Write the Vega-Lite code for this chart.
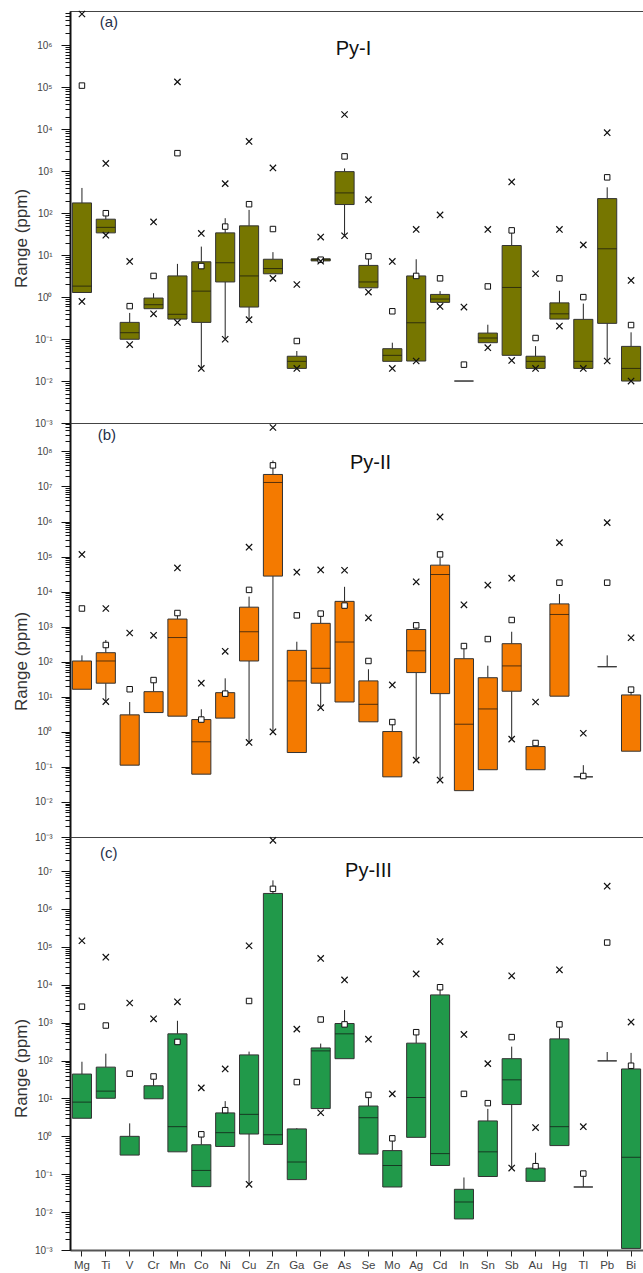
{
"$schema":"https://vega.github.io/schema/vega-lite/v6.json",
"padding":{"left":11,"top":7,"right":0,"bottom":0},
"background":"white",
"spacing":0,
"bounds":"flush",
"config":{"view":{"stroke":"#444","strokeWidth":1},"font":"Liberation Sans"},
"resolve":{"scale":{"y":"independent"}},
"datasets":{
"box":[
{"p":"a","el":"Mg","q1":1.29,"med":1.83,"q3":176,"whi":400,"mean":110000,"min":0.79,"max":5600000},
{"p":"a","el":"Ti","q1":34,"med":46,"q3":72,"whi":100,"mean":100,"min":30,"max":1540},
{"p":"a","el":"V","q1":0.099,"med":0.142,"q3":0.25,"whi":0.42,"mean":0.61,"min":0.074,"max":7.1},
{"p":"a","el":"Cr","q1":0.53,"med":0.66,"q3":0.95,"whi":1.24,"mean":3.2,"min":0.4,"max":62},
{"p":"a","el":"Mn","q1":0.3,"med":0.39,"q3":3.2,"whi":6.2,"mean":2700,"min":0.25,"max":135000},
{"p":"a","el":"Co","q1":0.25,"med":1.39,"q3":6.95,"whi":16,"wlo":0.02,"mean":5.5,"min":0.02,"max":33},
{"p":"a","el":"Ni","q1":2.3,"med":6.6,"q3":34,"whi":76,"wlo":0.099,"mean":48,"min":0.099,"max":507},
{"p":"a","el":"Cu","q1":0.58,"med":3.2,"q3":50,"whi":120,"wlo":0.29,"mean":164,"min":0.29,"max":5150},
{"p":"a","el":"Zn","q1":3.6,"med":4.8,"q3":8,"whi":11.8,"mean":42,"min":2.8,"max":1200},
{"p":"a","el":"Ga","q1":0.02,"med":0.0295,"q3":0.039,"whi":0.052,"mean":0.09,"min":0.02,"max":2},
{"p":"a","el":"Ge","q1":7.3,"med":7.8,"q3":8.2,"mean":7.8,"min":7.2,"max":27},
{"p":"a","el":"As","q1":161,"med":305,"q3":980,"whi":1170,"wlo":29,"mean":2260,"min":29,"max":22500},
{"p":"a","el":"Se","q1":1.67,"med":2.3,"q3":5.7,"whi":9.4,"mean":9.4,"min":1.32,"max":210},
{"p":"a","el":"Mo","q1":0.0295,"med":0.041,"q3":0.059,"whi":0.082,"mean":0.46,"min":0.02,"max":7.1},
{"p":"a","el":"Ag","q1":0.03,"med":0.245,"q3":3.2,"whi":8,"mean":3.2,"min":0.03,"max":41},
{"p":"a","el":"Cd","q1":0.75,"med":0.9,"q3":1.16,"whi":1.39,"mean":2.8,"min":0.6,"max":91},
{"p":"a","el":"In","q1":0.01,"q3":0.01,"mean":0.0246,"max":0.58},
{"p":"a","el":"Sn","q1":0.082,"med":0.106,"q3":0.139,"whi":0.22,"mean":1.8,"min":0.0625,"max":41},
{"p":"a","el":"Sb","q1":0.041,"med":1.7,"q3":17,"whi":39,"mean":39,"min":0.031,"max":556},
{"p":"a","el":"Au","q1":0.02,"med":0.0295,"q3":0.039,"whi":0.068,"mean":0.106,"min":0.02,"max":3.6},
{"p":"a","el":"Hg","q1":0.3,"med":0.4,"q3":0.73,"whi":1.42,"mean":2.8,"min":0.204,"max":41},
{"p":"a","el":"Tl","q1":0.02,"med":0.0295,"q3":0.295,"whi":0.7,"mean":1,"min":0.02,"max":17.6},
{"p":"a","el":"Pb","q1":0.237,"med":14.2,"q3":223,"whi":414,"wlo":0.03,"mean":716,"min":0.03,"max":8300},
{"p":"a","el":"Bi","q1":0.01,"med":0.02,"q3":0.067,"whi":0.145,"mean":0.216,"min":0.01,"max":2.5},
{"p":"b","el":"Mg","q1":16.4,"q3":105,"whi":152,"mean":3300,"max":115000},
{"p":"b","el":"Ti","q1":24.4,"med":105,"q3":181,"whi":417,"wlo":7.3,"mean":300,"min":7.3,"max":3300},
{"p":"b","el":"V","q1":0.112,"q3":3.05,"whi":7.1,"mean":16.4,"max":660},
{"p":"b","el":"Cr","q1":3.55,"q3":14,"whi":29.7,"mean":30,"max":566},
{"p":"b","el":"Mn","q1":2.8,"med":490,"q3":1650,"whi":2330,"mean":2450,"max":47500},
{"p":"b","el":"Co","q1":0.062,"med":0.52,"q3":2.24,"whi":4.4,"mean":2.24,"max":24.4},
{"p":"b","el":"Ni","q1":2.46,"q3":13.1,"whi":33.6,"mean":12.3,"max":198},
{"p":"b","el":"Cu","q1":105,"med":717,"q3":3600,"whi":7200,"wlo":0.5,"mean":11200,"min":0.5,"max":185000},
{"p":"b","el":"Zn","q1":27700,"med":13000000,"q3":22000000,"whi":55000000,"wlo":1,"mean":40000000,"min":1,"max":480000000},
{"p":"b","el":"Ga","q1":0.257,"med":28.4,"q3":211,"whi":372,"mean":2100,"max":35900},
{"p":"b","el":"Ge","q1":24.4,"med":65,"q3":1245,"whi":2360,"wlo":4.9,"mean":2360,"min":4.9,"max":41500},
{"p":"b","el":"As","q1":7.1,"med":365,"q3":5270,"whi":13700,"mean":4000,"max":40800},
{"p":"b","el":"Se","q1":1.93,"med":6.1,"q3":28.4,"whi":61,"mean":105,"max":1790},
{"p":"b","el":"Mo","q1":0.052,"q3":1.02,"whi":1.84,"mean":1.9,"max":21.8},
{"p":"b","el":"Ag","q1":49,"med":205,"q3":830,"whi":1290,"wlo":0.156,"mean":1090,"min":0.156,"max":19000},
{"p":"b","el":"Cd","q1":12.3,"med":30800,"q3":56900,"whi":91000,"wlo":0.042,"mean":115000,"min":0.042,"max":1350000},
{"p":"b","el":"In","q1":0.021,"med":1.65,"q3":122,"whi":280,"mean":280,"max":4200},
{"p":"b","el":"Sn","q1":0.083,"med":4.5,"q3":35,"whi":77,"mean":443,"max":15400},
{"p":"b","el":"Sb","q1":14.4,"med":76,"q3":327,"whi":717,"wlo":0.62,"mean":1550,"min":0.62,"max":24200},
{"p":"b","el":"Au","q1":0.083,"q3":0.38,"mean":0.48,"max":7.1},
{"p":"b","el":"Hg","q1":10.4,"med":2230,"q3":4470,"whi":8500,"mean":18000,"max":250000},
{"p":"b","el":"Tl","q1":0.052,"q3":0.052,"whi":0.112,"mean":0.055,"max":0.91},
{"p":"b","el":"Pb","q1":72,"q3":72,"whi":152,"mean":18000,"max":930000},
{"p":"b","el":"Bi","q1":0.28,"q3":11.3,"whi":18,"mean":16,"max":484},
{"p":"c","el":"Mg","q1":3,"med":8,"q3":44,"whi":93,"mean":2640,"max":145000},
{"p":"c","el":"Ti","q1":10.1,"med":15.6,"q3":67,"whi":152,"mean":840,"max":53500},
{"p":"c","el":"V","q1":0.32,"q3":1,"whi":2.2,"mean":45,"max":3300},
{"p":"c","el":"Cr","q1":9.8,"q3":21.6,"whi":33,"mean":38,"max":1260},
{"p":"c","el":"Mn","q1":0.39,"med":1.8,"q3":507,"whi":1120,"mean":310,"max":3550},
{"p":"c","el":"Co","q1":0.047,"med":0.126,"q3":0.6,"whi":1.38,"mean":1.13,"max":19},
{"p":"c","el":"Ni","q1":0.54,"med":1.25,"q3":4.15,"whi":8.5,"mean":4.9,"max":60},
{"p":"c","el":"Cu","q1":1.15,"med":3.8,"q3":141,"whi":172,"wlo":0.054,"mean":3730,"min":0.054,"max":107000},
{"p":"c","el":"Zn","q1":0.61,"med":1.1,"q3":2570000,"whi":5700000,"mean":3400000,"max":65000000},
{"p":"c","el":"Ga","q1":0.072,"med":0.21,"q3":1.57,"whi":1.65,"mean":27,"max":675},
{"p":"c","el":"Ge","q1":5.4,"med":180,"q3":215,"whi":280,"mean":1210,"min":4.2,"max":49500},
{"p":"c","el":"As","q1":112,"med":507,"q3":950,"whi":2150,"mean":900,"max":13400},
{"p":"c","el":"Se","q1":0.34,"med":3.1,"q3":6.3,"whi":12.4,"mean":12.4,"max":366},
{"p":"c","el":"Mo","q1":0.046,"med":0.17,"q3":0.42,"whi":0.885,"mean":0.885,"max":13.2},
{"p":"c","el":"Ag","q1":0.94,"med":10.6,"q3":288,"whi":560,"mean":560,"max":19300},
{"p":"c","el":"Cd","q1":0.17,"med":0.35,"q3":5400,"whi":8600,"mean":8600,"max":138000},
{"p":"c","el":"In","q1":0.0066,"med":0.0185,"q3":0.04,"whi":0.082,"mean":13.2,"max":490},
{"p":"c","el":"Sn","q1":0.087,"med":0.39,"q3":2.55,"whi":5.3,"mean":7.5,"max":83},
{"p":"c","el":"Sb","q1":6.9,"med":31,"q3":112,"whi":233,"wlo":0.145,"mean":415,"min":0.145,"max":17200},
{"p":"c","el":"Au","q1":0.065,"q3":0.145,"whi":0.37,"mean":0.163,"max":1.7},
{"p":"c","el":"Hg","q1":0.57,"med":1.8,"q3":373,"whi":900,"mean":900,"max":24800},
{"p":"c","el":"Tl","q1":0.046,"q3":0.046,"whi":0.104,"mean":0.104,"max":1.8},
{"p":"c","el":"Pb","q1":98,"q3":98,"whi":168,"mean":130000,"max":4000000},
{"p":"c","el":"Bi","q1":0.0011,"med":0.28,"q3":60,"whi":159,"mean":73,"max":1035}
],
"ann":[
{"p":"a","el":"Ti","v":3600000,"t":"(a)","k":"id"},
{"p":"a","el":"As","v":800000,"t":"Py-I","k":"nm"},
{"p":"b","el":"Ti","v":285000000,"t":"(b)","k":"id"},
{"p":"b","el":"Se","v":46000000,"t":"Py-II","k":"nm"},
{"p":"c","el":"Ti","v":30400000,"t":"(c)","k":"id"},
{"p":"c","el":"Se","v":10000000,"t":"Py-III","k":"nm"}
]
},
"vconcat":[
{
"width":573,"height":412,
"data":{"name":"box"},
"transform":[{"filter":"datum.p==='a'"}],
"encoding":{"x":{"field":"el","type":"nominal","sort":null,"scale":{"domain":["Mg","Ti","V","Cr","Mn","Co","Ni","Cu","Zn","Ga","Ge","As","Se","Mo","Ag","Cd","In","Sn","Sb","Au","Hg","Tl","Pb","Bi"],"paddingInner":0.2,"paddingOuter":0.1},"axis":null}},
"layer":[
{"transform":[{"filter":{"field":"whi","valid":true}}],"mark":{"type":"rule","color":"#222","strokeWidth":1},"encoding":{"y":{"field":"q3","type":"quantitative","scale":{"type":"log","domain":[0.001,6600000],"nice":false},"axis":{"title":"Range (ppm)","titleFont":"Liberation Sans","titleFontSize":17,"titleFontWeight":"normal","titleColor":"#333","titleX":-40,"titleY":227,"values":[0.001,0.002,0.003,0.004,0.005,0.006,0.007,0.008,0.009,0.01,0.02,0.03,0.04,0.05,0.06,0.07,0.08,0.09,0.1,0.2,0.3,0.4,0.5,0.6,0.7,0.8,0.9,1,2,3,4,5,6,7,8,9,10,20,30,40,50,60,70,80,90,100,200,300,400,500,600,700,800,900,1000,2000,3000,4000,5000,6000,7000,8000,9000,10000,20000,30000,40000,50000,60000,70000,80000,90000,100000,200000,300000,400000,500000,600000,700000,800000,900000,1000000,2000000,3000000,4000000,5000000,6000000],"labelExpr":"abs(log(datum.value)/LN10 - round(log(datum.value)/LN10)) < 0.000001 ? '10' + ['⁻³','⁻²','⁻¹','⁰','¹','²','³','⁴','⁵','⁶','⁷','⁸','⁹'][round(log(datum.value)/LN10)+3] : ''","labelFont":"Liberation Sans","labelFontSize":10,"labelColor":"#444","labelOverlap":false,"labelFlush":false,"labelPadding":9,"tickSize":{"condition":{"test":"abs(log(datum.value)/LN10 - round(log(datum.value)/LN10)) < 0.000001","value":9},"value":5},"tickColor":"#111","tickWidth":1,"domainColor":"#111","domainWidth":2,"grid":false}},"y2":{"field":"whi"}}},
{"transform":[{"filter":{"field":"wlo","valid":true}}],"mark":{"type":"rule","color":"#222","strokeWidth":1},"encoding":{"y":{"field":"q1","type":"quantitative","scale":{"type":"log","domain":[0.001,6600000],"nice":false}},"y2":{"field":"wlo"}}},
{"mark":{"type":"bar","fill":"#767600","stroke":"#333","strokeWidth":1},"encoding":{"y":{"field":"q1","type":"quantitative","scale":{"type":"log","domain":[0.001,6600000],"nice":false}},"y2":{"field":"q3"}}},
{"transform":[{"filter":{"field":"med","valid":true}}],"mark":{"type":"tick","color":"#111","thickness":1,"size":19},"encoding":{"y":{"field":"med","type":"quantitative","scale":{"type":"log","domain":[0.001,6600000],"nice":false}}}},
{"mark":{"type":"point","shape":"square","size":30,"filled":true,"fill":"white","stroke":"#111","strokeWidth":1,"opacity":1},"encoding":{"y":{"field":"mean","type":"quantitative","scale":{"type":"log","domain":[0.001,6600000],"nice":false}}}},
{"transform":[{"filter":{"field":"max","valid":true}}],"mark":{"type":"point","shape":"M-1,-1L1,1M-1,1L1,-1","size":40,"filled":false,"stroke":"#111","strokeWidth":1.2,"opacity":1},"encoding":{"y":{"field":"max","type":"quantitative","scale":{"type":"log","domain":[0.001,6600000],"nice":false}}}},
{"transform":[{"filter":{"field":"min","valid":true}}],"mark":{"type":"point","shape":"M-1,-1L1,1M-1,1L1,-1","size":40,"filled":false,"stroke":"#111","strokeWidth":1.2,"opacity":1},"encoding":{"y":{"field":"min","type":"quantitative","scale":{"type":"log","domain":[0.001,6600000],"nice":false}}}},
{"data":{"name":"ann"},"transform":[{"filter":"datum.p==='a' && datum.k==='id'"}],"mark":{"type":"text","font":"Liberation Sans","fontSize":15,"color":"#25304a","dx":3},"encoding":{"y":{"field":"v","type":"quantitative","scale":{"type":"log","domain":[0.001,6600000],"nice":false}},"text":{"field":"t"}}},
{"data":{"name":"ann"},"transform":[{"filter":"datum.p==='a' && datum.k==='nm'"}],"mark":{"type":"text","font":"Liberation Sans","fontSize":20,"color":"#111","dx":9},"encoding":{"y":{"field":"v","type":"quantitative","scale":{"type":"log","domain":[0.001,6600000],"nice":false}},"text":{"field":"t"}}}
]
},
{
"width":573,"height":414,
"data":{"name":"box"},
"transform":[{"filter":"datum.p==='b'"}],
"encoding":{"x":{"field":"el","type":"nominal","sort":null,"scale":{"domain":["Mg","Ti","V","Cr","Mn","Co","Ni","Cu","Zn","Ga","Ge","As","Se","Mo","Ag","Cd","In","Sn","Sb","Au","Hg","Tl","Pb","Bi"],"paddingInner":0.2,"paddingOuter":0.1},"axis":null}},
"layer":[
{"transform":[{"filter":{"field":"whi","valid":true}}],"mark":{"type":"rule","color":"#222","strokeWidth":1},"encoding":{"y":{"field":"q3","type":"quantitative","scale":{"type":"log","domain":[0.001,646000000],"nice":false},"axis":{"title":"Range (ppm)","titleFont":"Liberation Sans","titleFontSize":17,"titleFontWeight":"normal","titleColor":"#333","titleX":-40,"titleY":238,"values":[0.001,0.002,0.003,0.004,0.005,0.006,0.007,0.008,0.009,0.01,0.02,0.03,0.04,0.05,0.06,0.07,0.08,0.09,0.1,0.2,0.3,0.4,0.5,0.6,0.7,0.8,0.9,1,2,3,4,5,6,7,8,9,10,20,30,40,50,60,70,80,90,100,200,300,400,500,600,700,800,900,1000,2000,3000,4000,5000,6000,7000,8000,9000,10000,20000,30000,40000,50000,60000,70000,80000,90000,100000,200000,300000,400000,500000,600000,700000,800000,900000,1000000,2000000,3000000,4000000,5000000,6000000,7000000,8000000,9000000,10000000,20000000,30000000,40000000,50000000,60000000,70000000,80000000,90000000,100000000,200000000,300000000,400000000,500000000,600000000],"labelExpr":"abs(log(datum.value)/LN10 - round(log(datum.value)/LN10)) < 0.000001 ? '10' + ['⁻³','⁻²','⁻¹','⁰','¹','²','³','⁴','⁵','⁶','⁷','⁸','⁹'][round(log(datum.value)/LN10)+3] : ''","labelFont":"Liberation Sans","labelFontSize":10,"labelColor":"#444","labelOverlap":false,"labelFlush":false,"labelPadding":9,"tickSize":{"condition":{"test":"abs(log(datum.value)/LN10 - round(log(datum.value)/LN10)) < 0.000001","value":9},"value":5},"tickColor":"#111","tickWidth":1,"domainColor":"#111","domainWidth":2,"grid":false}},"y2":{"field":"whi"}}},
{"transform":[{"filter":{"field":"wlo","valid":true}}],"mark":{"type":"rule","color":"#222","strokeWidth":1},"encoding":{"y":{"field":"q1","type":"quantitative","scale":{"type":"log","domain":[0.001,646000000],"nice":false}},"y2":{"field":"wlo"}}},
{"mark":{"type":"bar","fill":"#f47a00","stroke":"#333","strokeWidth":1},"encoding":{"y":{"field":"q1","type":"quantitative","scale":{"type":"log","domain":[0.001,646000000],"nice":false}},"y2":{"field":"q3"}}},
{"transform":[{"filter":{"field":"med","valid":true}}],"mark":{"type":"tick","color":"#111","thickness":1,"size":19},"encoding":{"y":{"field":"med","type":"quantitative","scale":{"type":"log","domain":[0.001,646000000],"nice":false}}}},
{"mark":{"type":"point","shape":"square","size":30,"filled":true,"fill":"white","stroke":"#111","strokeWidth":1,"opacity":1},"encoding":{"y":{"field":"mean","type":"quantitative","scale":{"type":"log","domain":[0.001,646000000],"nice":false}}}},
{"transform":[{"filter":{"field":"max","valid":true}}],"mark":{"type":"point","shape":"M-1,-1L1,1M-1,1L1,-1","size":40,"filled":false,"stroke":"#111","strokeWidth":1.2,"opacity":1},"encoding":{"y":{"field":"max","type":"quantitative","scale":{"type":"log","domain":[0.001,646000000],"nice":false}}}},
{"transform":[{"filter":{"field":"min","valid":true}}],"mark":{"type":"point","shape":"M-1,-1L1,1M-1,1L1,-1","size":40,"filled":false,"stroke":"#111","strokeWidth":1.2,"opacity":1},"encoding":{"y":{"field":"min","type":"quantitative","scale":{"type":"log","domain":[0.001,646000000],"nice":false}}}},
{"data":{"name":"ann"},"transform":[{"filter":"datum.p==='b' && datum.k==='id'"}],"mark":{"type":"text","font":"Liberation Sans","fontSize":15,"color":"#25304a","dx":1},"encoding":{"y":{"field":"v","type":"quantitative","scale":{"type":"log","domain":[0.001,646000000],"nice":false}},"text":{"field":"t"}}},
{"data":{"name":"ann"},"transform":[{"filter":"datum.p==='b' && datum.k==='nm'"}],"mark":{"type":"text","font":"Liberation Sans","fontSize":20,"color":"#111","dx":2},"encoding":{"y":{"field":"v","type":"quantitative","scale":{"type":"log","domain":[0.001,646000000],"nice":false}},"text":{"field":"t"}}}
]
},
{
"width":573,"height":413,
"data":{"name":"box"},
"transform":[{"filter":"datum.p==='c'"}],
"encoding":{"x":{"field":"el","type":"nominal","sort":null,"scale":{"domain":["Mg","Ti","V","Cr","Mn","Co","Ni","Cu","Zn","Ga","Ge","As","Se","Mo","Ag","Cd","In","Sn","Sb","Au","Hg","Tl","Pb","Bi"],"paddingInner":0.2,"paddingOuter":0.1},"axis":{"title":null,"labelAngle":0,"labelFont":"Liberation Sans","labelFontSize":11.5,"labelColor":"#444","labelPadding":3,"tickSize":6,"tickColor":"#222","domainColor":"#555","domainWidth":2}}},
"layer":[
{"transform":[{"filter":{"field":"whi","valid":true}}],"mark":{"type":"rule","color":"#222","strokeWidth":1},"encoding":{"y":{"field":"q3","type":"quantitative","scale":{"type":"log","domain":[0.001,79400000],"nice":false},"axis":{"title":"Range (ppm)","titleFont":"Liberation Sans","titleFontSize":17,"titleFontWeight":"normal","titleColor":"#333","titleX":-40,"titleY":231,"values":[0.001,0.002,0.003,0.004,0.005,0.006,0.007,0.008,0.009,0.01,0.02,0.03,0.04,0.05,0.06,0.07,0.08,0.09,0.1,0.2,0.3,0.4,0.5,0.6,0.7,0.8,0.9,1,2,3,4,5,6,7,8,9,10,20,30,40,50,60,70,80,90,100,200,300,400,500,600,700,800,900,1000,2000,3000,4000,5000,6000,7000,8000,9000,10000,20000,30000,40000,50000,60000,70000,80000,90000,100000,200000,300000,400000,500000,600000,700000,800000,900000,1000000,2000000,3000000,4000000,5000000,6000000,7000000,8000000,9000000,10000000,20000000,30000000,40000000,50000000,60000000,70000000],"labelExpr":"abs(log(datum.value)/LN10 - round(log(datum.value)/LN10)) < 0.000001 ? '10' + ['⁻³','⁻²','⁻¹','⁰','¹','²','³','⁴','⁵','⁶','⁷','⁸','⁹'][round(log(datum.value)/LN10)+3] : ''","labelFont":"Liberation Sans","labelFontSize":10,"labelColor":"#444","labelOverlap":false,"labelFlush":false,"labelPadding":9,"tickSize":{"condition":{"test":"abs(log(datum.value)/LN10 - round(log(datum.value)/LN10)) < 0.000001","value":9},"value":5},"tickColor":"#111","tickWidth":1,"domainColor":"#111","domainWidth":2,"grid":false}},"y2":{"field":"whi"}}},
{"transform":[{"filter":{"field":"wlo","valid":true}}],"mark":{"type":"rule","color":"#222","strokeWidth":1},"encoding":{"y":{"field":"q1","type":"quantitative","scale":{"type":"log","domain":[0.001,79400000],"nice":false}},"y2":{"field":"wlo"}}},
{"mark":{"type":"bar","fill":"#21994a","stroke":"#333","strokeWidth":1},"encoding":{"y":{"field":"q1","type":"quantitative","scale":{"type":"log","domain":[0.001,79400000],"nice":false}},"y2":{"field":"q3"}}},
{"transform":[{"filter":{"field":"med","valid":true}}],"mark":{"type":"tick","color":"#111","thickness":1,"size":19},"encoding":{"y":{"field":"med","type":"quantitative","scale":{"type":"log","domain":[0.001,79400000],"nice":false}}}},
{"mark":{"type":"point","shape":"square","size":30,"filled":true,"fill":"white","stroke":"#111","strokeWidth":1,"opacity":1},"encoding":{"y":{"field":"mean","type":"quantitative","scale":{"type":"log","domain":[0.001,79400000],"nice":false}}}},
{"transform":[{"filter":{"field":"max","valid":true}}],"mark":{"type":"point","shape":"M-1,-1L1,1M-1,1L1,-1","size":40,"filled":false,"stroke":"#111","strokeWidth":1.2,"opacity":1},"encoding":{"y":{"field":"max","type":"quantitative","scale":{"type":"log","domain":[0.001,79400000],"nice":false}}}},
{"transform":[{"filter":{"field":"min","valid":true}}],"mark":{"type":"point","shape":"M-1,-1L1,1M-1,1L1,-1","size":40,"filled":false,"stroke":"#111","strokeWidth":1.2,"opacity":1},"encoding":{"y":{"field":"min","type":"quantitative","scale":{"type":"log","domain":[0.001,79400000],"nice":false}}}},
{"data":{"name":"ann"},"transform":[{"filter":"datum.p==='c' && datum.k==='id'"}],"mark":{"type":"text","font":"Liberation Sans","fontSize":15,"color":"#25304a","dx":3},"encoding":{"y":{"field":"v","type":"quantitative","scale":{"type":"log","domain":[0.001,79400000],"nice":false}},"text":{"field":"t"}}},
{"data":{"name":"ann"},"transform":[{"filter":"datum.p==='c' && datum.k==='nm'"}],"mark":{"type":"text","font":"Liberation Sans","fontSize":20,"color":"#111","dx":0},"encoding":{"y":{"field":"v","type":"quantitative","scale":{"type":"log","domain":[0.001,79400000],"nice":false}},"text":{"field":"t"}}}
]
}
]
}
